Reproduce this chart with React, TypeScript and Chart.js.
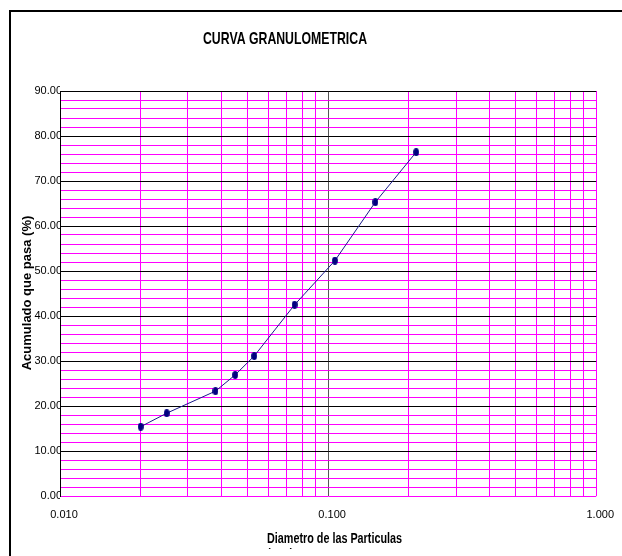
import React, { useEffect, useRef } from 'react';
import { Chart, registerables } from 'chart.js';

Chart.register(...registerables);

// ---- data ----
const diameters = [0.020, 0.025, 0.038, 0.045, 0.053, 0.075, 0.106, 0.150, 0.213];
const passing = [15.4, 18.4, 23.3, 26.9, 31.1, 42.5, 52.3, 65.3, 76.4];

const xDecades = [0.01, 0.1, 1];
const xMultipliers = [1, 2, 3, 4, 5, 6, 7, 8, 9];
const yTickValues = [0, 2, 4, 6, 8, 10, 12, 14, 16, 18, 20, 22, 24, 26, 28, 30, 32, 34, 36, 38, 40,
  42, 44, 46, 48, 50, 52, 54, 56, 58, 60, 62, 64, 66, 68, 70, 72, 74, 76, 78, 80, 82, 84, 86, 88, 90];
const yLabelStep = 10;

const titleText = 'CURVA GRANULOMETRICA';
const xTitleLines = ['Diametro de las Particulas', '(mm)'];
const yTitleText = 'Acumulado que pasa (%)';

const FONT = "'Liberation Sans', Arial, sans-serif";
const MAJOR = '#000000';
const MINOR = '#ff00ff';

function buildXTicks(): number[] {
  const out: number[] = [];
  xDecades.forEach((d, i) => {
    if (i === xDecades.length - 1) {
      out.push(d);
    } else {
      xMultipliers.forEach((m) => out.push(Number((d * m).toFixed(4))));
    }
  });
  return out;
}

function isDecade(v: number): boolean {
  const l = Math.log10(v);
  return Math.abs(l - Math.round(l)) < 1e-6;
}

function makeDot(): HTMLCanvasElement {
  const c = document.createElement('canvas');
  c.width = 6;
  c.height = 8;
  const g = c.getContext('2d')!;
  g.fillStyle = '#000080';
  g.beginPath();
  g.ellipse(3, 4, 2.9, 3.9, 0, 0, Math.PI * 2);
  g.fill();
  return c;
}

function fitText(ctx: CanvasRenderingContext2D, text: string, x: number, y: number, width: number, align: 'left' | 'center') {
  const natural = ctx.measureText(text).width;
  const sx = width / natural;
  ctx.save();
  ctx.translate(x, y);
  ctx.scale(sx, 1);
  ctx.textAlign = align;
  ctx.fillText(text, 0, 0);
  ctx.restore();
}

const textPlugin = {
  id: 'texts',
  afterDraw(chart: any) {
    const ctx: CanvasRenderingContext2D = chart.ctx;
    ctx.save();
    ctx.fillStyle = '#000';
    ctx.textBaseline = 'alphabetic';
    // title
    ctx.font = `bold 17px ${FONT}`;
    fitText(ctx, titleText, 285, 44, 164, 'center');
    // x title
    ctx.font = `bold 14px ${FONT}`;
    fitText(ctx, xTitleLines[0], 267, 543, 135, 'left');
    ctx.save();
    ctx.beginPath();
    ctx.rect(0, 0, 622, 549);
    ctx.clip();
    const w1 = ctx.measureText(xTitleLines[0]).width;
    const sx = 135 / w1;
    ctx.translate(267, 559);
    ctx.scale(sx, 1);
    ctx.textAlign = 'left';
    ctx.fillText(xTitleLines[1], 0, 0);
    ctx.restore();
    // y title
    ctx.font = `bold 13px ${FONT}`;
    ctx.translate(27, 293);
    ctx.rotate(-Math.PI / 2);
    ctx.textAlign = 'center';
    ctx.textBaseline = 'middle';
    ctx.fillText(yTitleText, 0, 0);
    ctx.restore();
  },
};

export default function App() {
  const ref = useRef<HTMLCanvasElement | null>(null);

  useEffect(() => {
    document.body.style.overflow = 'hidden';
    const canvas = ref.current!;
    const xTicks = buildXTicks();
    const chart = new Chart(canvas, {
      type: 'scatter',
      data: {
        datasets: [
          {
            data: diameters.map((d, i) => ({ x: d, y: passing[i] })),
            showLine: true,
            borderColor: '#1a1a8a',
            borderWidth: 1,
            pointStyle: makeDot() as any,
            pointRadius: 4,
            pointHoverRadius: 4,
            backgroundColor: '#000080',
          },
        ],
      },
      options: {
        animation: false,
        responsive: false,
        devicePixelRatio: 1,
        layout: { padding: { top: 91, right: 25, left: 0, bottom: 0 } },
        plugins: {
          legend: { display: false },
          title: { display: false },
          tooltip: { enabled: false },
        },
        scales: {
          x: {
            type: 'logarithmic',
            min: 0.01,
            max: 1,
            afterBuildTicks: (scale: any) => {
              scale.ticks = xTicks.map((v) => ({ value: v }));
            },
            afterFit: (scale: any) => {
              scale.height = 60;
            },
            ticks: {
              autoSkip: false,
              maxRotation: 0,
              minRotation: 0,
              padding: 12,
              labelOffset: 4,
              color: '#000',
              font: { family: FONT, size: 11 },
              callback: (v: any) => (isDecade(Number(v)) ? Number(v).toFixed(3) : ''),
            },
            grid: {
              drawTicks: false,
              lineWidth: 1,
              color: (c: any) => {
                const v = c.tick ? c.tick.value : 0;
                if (Math.abs(v - 0.01) < 1e-9) return MAJOR;
                if (Math.abs(v - 0.1) < 1e-9) return '#555555';
                return MINOR;
              },
            },
            border: { display: false },
          },
          y: {
            type: 'linear',
            min: 0,
            max: 90,
            afterBuildTicks: (scale: any) => {
              scale.ticks = yTickValues.map((v) => ({ value: v }));
            },
            afterFit: (scale: any) => {
              scale.width = 60;
            },
            ticks: {
              autoSkip: false,
              padding: -2,
              color: '#000',
              font: { family: FONT, size: 11 },
              callback: (v: any) => (Number(v) % yLabelStep === 0 ? Number(v).toFixed(2) : ''),
            },
            grid: {
              drawTicks: false,
              lineWidth: 1,
              color: (c: any) => {
                const v = c.tick ? c.tick.value : 0;
                if (v === 0) return MINOR;
                return v % yLabelStep === 0 ? MAJOR : MINOR;
              },
            },
            border: { display: true, color: '#000', width: 1 },
          },
        },
      },
      plugins: [textPlugin],
    });
    return () => chart.destroy();
  }, []);

  return (
    <div style={{ position: 'absolute', left: 0, top: 0, width: 622, height: 556, overflow: 'hidden', background: '#fff' }}>
      <canvas ref={ref} width={622} height={556} style={{ position: 'absolute', left: 0, top: 0, width: 622, height: 556 }} />
      <div
        style={{
          position: 'absolute',
          left: 9,
          top: 10,
          width: 700,
          height: 700,
          border: '2px solid #000',
          pointerEvents: 'none',
        }}
      />
    </div>
  );
}
